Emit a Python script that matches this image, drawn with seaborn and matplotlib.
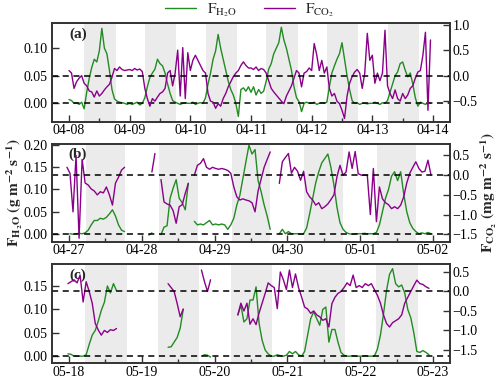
import numpy as np
import pandas as pd
import matplotlib
matplotlib.use("Agg")
import matplotlib.pyplot as plt
import matplotlib.dates as mdates
from matplotlib.lines import Line2D
import seaborn as sns

nan = np.nan

# valores horários (H2O em g m-2 s-1, CO2 em mg m-2 s-1)
start_a = "2019-04-08 00:00"
h2o_a = [0.007, 0.005, 0.000, 0.001, -0.002, 0.002, -0.010, 0.020, 0.045, 0.065, 0.080, 0.075,
         0.095, 0.136, 0.100, 0.090, 0.060, 0.025, 0.008, 0.004, 0.002, 0.001, 0.000, -0.002,
         0.000, -0.002, 0.000, 0.002, -0.003, 0.000, 0.010, 0.030, 0.047, 0.055, 0.062, 0.080,
         0.072, 0.068, 0.055, 0.035, 0.018, 0.005, 0.002, 0.000, -0.002, 0.000, 0.001, 0.000,
         0.000, 0.002, -0.002, 0.000, 0.001, 0.000, 0.010, 0.035, 0.055, 0.080, 0.095, 0.125,
         0.100, 0.080, 0.060, 0.040, 0.025, 0.015, 0.000, -0.024, 0.025, 0.028, 0.022, 0.030,
         0.020, 0.030, 0.015, 0.025, 0.018, 0.022, 0.040, 0.062, 0.072, 0.090, 0.100, 0.110,
         0.138, 0.115, 0.100, 0.080, 0.060, 0.030, 0.010, 0.003, -0.015, 0.000, 0.002, 0.000,
         0.000, 0.002, -0.002, 0.000, 0.001, 0.000, 0.002, 0.030, 0.055, 0.068, 0.080, 0.090,
         0.110, 0.080, 0.050, 0.025, 0.005, 0.000, 0.001, -0.002, 0.000, 0.000, -0.001, 0.000,
         0.000, 0.002, 0.000, -0.002, 0.001, 0.000, 0.005, 0.020, 0.035, 0.050, 0.057, 0.072,
         0.075, 0.060, 0.048, 0.055, 0.035, 0.010, -0.005, 0.002, 0.000, -0.002, 0.001, 0.000]
co2_a = [0.10, 0.05, -0.25, -0.12, -0.05, 0.00, -0.15, -0.20, -0.30, -0.32, -0.42, -0.30,
         -0.40, -0.35, -0.28, -0.22, -0.17, -0.03, 0.14, 0.10, 0.17, 0.12, 0.10, 0.11,
         0.12, 0.10, 0.14, 0.11, 0.13, 0.08, -0.25, -0.45, -0.60, -0.45, -0.50, -0.42,
         -0.35, -0.32, -0.25, 0.05, 0.10, -0.20, 0.05, 0.50, -0.40, 0.55, -0.45, 0.45,
         0.10, 0.30, 0.40, 0.30, 0.20, 0.10, 0.05, -0.35, -0.50, -0.52, -0.64, -0.55,
         -0.60, -0.45, -0.35, -0.22, -0.12, -0.02, 0.05, 0.10, 0.20, 0.27, 0.20, 0.15,
         0.15, 0.12, 0.17, 0.10, 0.14, 0.12, 0.05, -0.10, -0.25, -0.32, -0.38, -0.44,
         -0.50, -0.55, -0.40, -0.30, -0.20, -0.05, 0.10, 0.05, -0.22, 0.05, 0.08, 0.15,
         0.10, 0.63, 0.41, 0.10, 0.30, 0.05, 0.17, -0.25, -0.40, -0.35, -0.50, -0.55,
         -0.68, -0.84, -0.40, -0.15, -0.02, 0.07, 0.12, 0.05, -0.25, 0.05, 0.83, 0.30,
         0.40, -0.15, 0.05, -0.10, 0.05, 0.89, -0.20, -0.35, -0.45, -0.28, -0.45, -0.50,
         -0.35, -0.45, -0.38, -0.25, -0.20, -0.05, 0.07, 0.10, 0.40, 0.85, -0.68, 0.70]

start_b = "2019-04-26 23:20"
h2o_b = [nan, 0.000, -0.001, 0.000, 0.001, 0.000, 0.002, 0.008, 0.020, 0.030, 0.030, 0.035,
         0.033, 0.037, 0.045, 0.054, 0.040, 0.020, 0.008, 0.005, nan, nan, nan, nan,
         nan, nan, nan, -0.003, 0.002, nan, nan, -0.002, 0.015, 0.018, 0.080, 0.103,
         0.122, 0.080, 0.070, 0.054, 0.114, nan, 0.028, 0.020, 0.022, 0.020, 0.025, 0.030,
         0.020, 0.022, 0.020, 0.022, 0.020, 0.010, 0.020, 0.035, 0.065, 0.087, 0.125, 0.163,
         0.200, 0.180, 0.190, 0.120, 0.095, 0.065, 0.040, 0.010, nan, nan, 0.000, 0.010,
         0.000, 0.005, 0.000, 0.000, 0.000, -0.001, 0.000, 0.013, 0.045, 0.080, 0.115, 0.140,
         0.160, 0.170, 0.180, 0.150, 0.110, 0.060, 0.025, 0.010, 0.003, 0.000, -0.001, 0.000,
         0.000, 0.000, 0.001, 0.000, 0.000, 0.000, 0.003, 0.020, 0.050, 0.080, 0.100, 0.130,
         0.140, 0.120, 0.140, 0.090, 0.050, 0.025, 0.012, 0.005, 0.000, 0.002, 0.000, 0.003,
         0.000]
co2_b = [0.20, 0.05, -0.93, 0.50, -1.60, 0.40, -0.20, -0.25, -0.35, -0.40, -0.50, -0.42,
         -0.45, -0.30, -0.50, -0.76, -0.20, -0.05, 0.13, 0.20, nan, nan, nan, nan,
         nan, nan, nan, nan, 0.08, 0.55, nan, -0.11, -0.68, -0.73, -0.76, -0.90,
         -1.22, -0.80, -0.75, -0.46, -0.21, nan, 0.00, 0.25, 0.30, 0.42, 0.20, 0.15,
         0.20, 0.17, 0.15, 0.17, 0.15, 0.12, 0.05, -0.30, -0.55, -0.63, -0.60, -0.63,
         -0.65, -0.70, -0.93, -0.40, -0.10, 0.20, 0.40, 0.59, nan, nan, -0.21, 0.34,
         0.45, 0.55, 0.05, 0.20, 0.10, -0.13, 0.10, -0.42, -0.55, -0.63, -0.76, -0.70,
         -0.85, -0.80, -0.73, -0.62, -0.50, -0.04, 0.25, 0.00, 0.08, 0.59, 0.17, 0.60,
         0.04, 0.00, 0.00, 0.00, -1.00, 0.17, -1.18, -0.30, -0.60, -0.70, -0.75, -0.85,
         -0.80, -0.85, -0.76, -0.55, -0.20, 0.05, 0.20, 0.34, 0.17, 0.08, 0.10, 0.38,
         0.00]

start_c = "2019-05-17 23:40"
h2o_c = [0.005, 0.004, 0.000, 0.000, 0.000, 0.000, 0.003, 0.025, 0.045, 0.055, 0.075, 0.098,
         0.115, 0.150, 0.135, 0.155, 0.140, nan, nan, nan, nan, nan, nan, nan,
         nan, nan, nan, nan, nan, nan, nan, nan, nan, 0.019, 0.020, 0.030,
         0.040, 0.060, 0.100, nan, nan, nan, nan, nan, 0.000, 0.003, 0.002, -0.002,
         nan, nan, nan, nan, nan, nan, nan, nan, 0.088, 0.109, 0.073, 0.080,
         0.120, 0.120, 0.148, 0.070, 0.034, 0.013, 0.005, 0.000, 0.000, 0.003, 0.001, 0.000,
         0.002, 0.010, 0.005, 0.010, 0.003, 0.000, 0.010, 0.045, 0.080, 0.095, 0.080, 0.066,
         0.100, 0.105, 0.030, 0.057, 0.057, 0.030, 0.008, 0.002, 0.000, 0.000, 0.001, 0.000,
         0.000, 0.000, 0.001, 0.000, 0.000, 0.000, 0.015, 0.045, 0.090, 0.140, 0.175, 0.187,
         0.155, 0.148, 0.152, 0.135, 0.100, 0.082, 0.050, 0.010, 0.008, 0.012, 0.008, 0.003]
co2_c = [0.20, 0.25, 0.30, 0.22, 0.42, -0.27, 0.25, 0.00, -0.30, -0.82, -0.99, -1.12,
         -1.00, -1.05, -0.98, -1.00, -0.95, nan, nan, nan, nan, nan, nan, nan,
         nan, nan, nan, nan, nan, nan, nan, nan, nan, 0.20, 0.10, 0.00,
         -0.31, -0.65, -0.45, nan, nan, nan, nan, nan, 0.55, 0.25, 0.00, 0.30,
         nan, nan, nan, nan, nan, nan, nan, nan, -0.60, -0.30, -0.50, -0.30,
         -0.84, -0.70, -0.85, -0.55, -0.30, -0.05, 0.22, 0.15, 0.10, -0.44, 0.50, 0.30,
         0.05, 0.55, 0.10, 0.45, 0.10, -0.14, -0.40, -0.45, -0.56, -0.50, -0.60, -0.65,
         -0.74, -0.70, -0.91, -0.31, -0.15, -0.05, 0.00, 0.10, 0.22, 0.15, 0.42, 0.10,
         0.15, 0.10, 0.20, 0.15, 0.20, 0.05, -0.10, -0.30, -0.60, -0.82, -0.91, -0.80,
         -0.75, -0.70, -0.60, -0.30, -0.15, 0.00, 0.15, 0.29, 0.20, 0.18, 0.12, 0.08]

# dias e horário diurno (nascer / pôr do sol, em horas)
days_a = pd.date_range("2019-04-08", periods=6, freq="D")
days_b = pd.date_range("2019-04-27", periods=5, freq="D")
days_c = pd.date_range("2019-05-18", periods=5, freq="D")
sun_a = (6.1, 18.4)
sun_b = (5.6, 18.4)
sun_c = (5.3, 19.0)

green = "#228b22"
purple = "#8b008b"
shade = "#ebebeb"

sns.set_theme(style="ticks")
plt.rcParams["font.family"] = ["Liberation Serif", "DejaVu Serif"]
plt.rcParams["mathtext.fontset"] = "stix"
plt.rcParams["axes.edgecolor"] = "#333333"
plt.rcParams["axes.linewidth"] = 1.2


def make_frame(start, values):
    t = pd.date_range(start, periods=len(values), freq="h")
    df = pd.DataFrame({"time": t, "val": values})
    df["seg"] = df["val"].isna().cumsum()
    return df.dropna()


def draw_panel(rect, start, h2o, co2, days, sun, margin, ylim_l, yt_l, ylim_r, yt_r, tag):
    ax = fig.add_axes(rect)
    ax2 = ax.twinx()
    for d in days:
        ax.axvspan(d + pd.Timedelta(hours=sun[0]), d + pd.Timedelta(hours=sun[1]),
                   color=shade, lw=0, zorder=0)
    sns.lineplot(data=make_frame(start, h2o), x="time", y="val", units="seg",
                 estimator=None, color=green, lw=1.0, ax=ax)
    sns.lineplot(data=make_frame(start, co2), x="time", y="val", units="seg",
                 estimator=None, color=purple, lw=1.0, ax=ax2)
    ax.axhline(0, color="black", ls="--", lw=1.1, dashes=(4, 3))
    ax2.axhline(0, color="black", ls="--", lw=1.1, dashes=(4, 3))

    first = days[0]
    last = days[-1] + pd.Timedelta(days=1)
    ax.set_xlim(first - pd.Timedelta(days=margin), last + pd.Timedelta(days=margin))
    ax.xaxis.set_major_locator(mdates.DayLocator())
    ax.xaxis.set_major_formatter(mdates.DateFormatter("%m-%d"))
    ax.xaxis.set_minor_locator(mdates.HourLocator(byhour=12))

    ax.set_ylim(*ylim_l)
    ax.set_yticks(yt_l)
    ax.set_yticklabels([f"{v:.2f}" for v in yt_l])
    ax2.set_ylim(*ylim_r)
    ax2.set_yticks(yt_r)
    ax2.set_yticklabels([f"{v:.1f}".replace("-", "\u2212") for v in yt_r])

    ax.set_xlabel("")
    ax.set_ylabel("")
    ax2.set_ylabel("")
    ax.tick_params(axis="y", direction="in", length=5, width=1, labelsize=10,
                   colors="#333333", labelcolor="black", pad=3)
    ax.tick_params(axis="x", which="major", direction="in", length=5, width=1, labelsize=10,
                   colors="#333333", labelcolor="black", pad=1.5)
    ax.tick_params(axis="x", which="minor", direction="in", length=3, width=1, colors="#333333")
    ax2.tick_params(axis="y", direction="in", length=5, width=1, labelsize=10,
                    colors="#333333", labelcolor="black", pad=2)
    for s in ax2.spines.values():
        s.set_color("#333333")
        s.set_linewidth(1.2)
    ax.text(0.065, 0.89, tag, transform=ax.transAxes, ha="center", va="center",
            fontsize=11, fontweight="bold")
    return ax, ax2


fig = plt.figure(figsize=(5.0, 3.79), dpi=100)

draw_panel([0.104, 0.678, 0.796, 0.261], start_a, h2o_a, co2_a, days_a, sun_a, 0.28,
           (-0.034, 0.1455), [0.00, 0.05, 0.10], (-0.91, 1.03), [-0.5, 0.0, 0.5, 1.0], "(a)")
axb, axb2 = draw_panel([0.104, 0.361, 0.796, 0.260], start_b, h2o_b, co2_b, days_b, sun_b, 0.233,
                       (-0.019, 0.2034), [0.00, 0.05, 0.10, 0.15, 0.20],
                       (-1.70, 0.80), [-1.5, -1.0, -0.5, 0.0, 0.5], "(b)")
draw_panel([0.104, 0.041, 0.796, 0.262], start_c, h2o_c, co2_c, days_c, sun_c, 0.233,
           (-0.0156, 0.1966), [0.00, 0.05, 0.10, 0.15],
           (-1.846, 0.70), [-1.5, -1.0, -0.5, 0.0, 0.5], "(c)")

axb.set_ylabel(r"$\mathbf{F_{H_2O}\ (g\ m^{-2}\ s^{-1})}$", fontsize=11, labelpad=-1)
axb2.set_ylabel(r"$\mathbf{F_{CO_2}\ (mg\ m^{-2}\ s^{-1})}$", fontsize=11, labelpad=1)

handles = [Line2D([], [], color=green, lw=1.0), Line2D([], [], color=purple, lw=1.0)]
fig.legend(handles, [r"$\mathrm{F_{H_2O}}$", r"$\mathrm{F_{CO_2}}$"], loc="center",
           bbox_to_anchor=(0.5, 0.973), ncol=2, frameon=False, fontsize=11,
           handlelength=2.0, columnspacing=1.8, handletextpad=0.7)

fig.savefig("out.png", dpi=100)
